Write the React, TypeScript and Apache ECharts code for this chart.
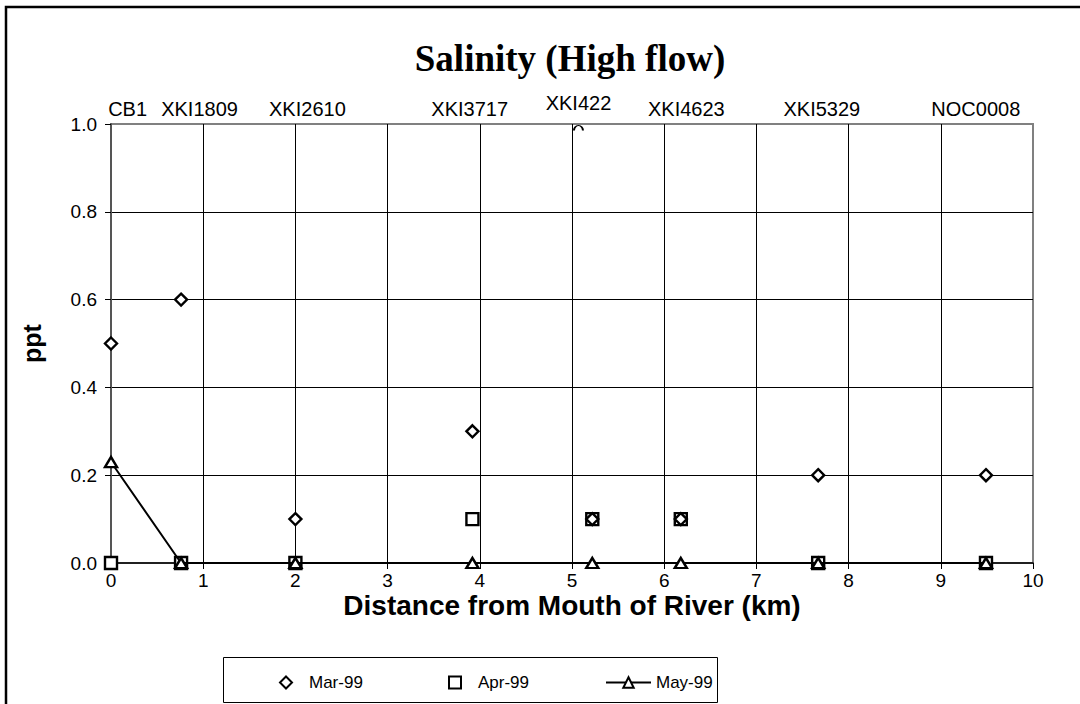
import React, { useEffect, useRef } from "react";
import * as echarts from "echarts";

// ---- data ----
const stationKm = [0, 0.76, 2.0, 3.92, 5.22, 6.18, 7.67, 9.49];
const mar99 = [0.5, 0.6, 0.1, 0.3, 0.1, 0.1, 0.2, 0.2];
const apr99 = [0, 0, 0, 0.1, 0.1, 0.1, 0, 0];
const may99 = [0.23, 0, 0, 0, 0, 0, 0, 0];

const stationNames = ["CB1", "XKI1809", "XKI2610", "XKI3717", "XKI422", "XKI4623", "XKI5329", "NOC0008"];
const stationLabelKm = [0.18, 0.96, 2.13, 3.89, 5.07, 6.24, 7.71, 9.38];
const stationLabelLevel = [1, 1, 1, 1, 1, 1, 1, 1];

const seriesNames = ["Mar-99", "Apr-99", "May-99"];

const FONT = "'Liberation Sans', Arial, sans-serif";

const pair = (xs: number[], ys: number[]) => xs.map((x, i) => [x, ys[i]]);

export default function App() {
  const ref = useRef<HTMLDivElement>(null);
  useEffect(() => {
    if (!ref.current) return;
    const chart = echarts.init(ref.current, null, { renderer: "svg" });
    const markerStyle = { color: "#ffffff", borderColor: "#000000", borderWidth: 2.4, opacity: 1 };
    const legendText = { fontFamily: FONT, fontSize: 17, color: "#000" };
    chart.setOption({
      animation: false,
      backgroundColor: "#ffffff",
      title: {
        text: "Salinity (High flow)",
        left: 565,
        top: 35,
        textAlign: "center",
        textStyle: { fontFamily: "'Liberation Serif', 'Times New Roman', serif", fontWeight: "bold", fontSize: 37, color: "#000" },
      },
      grid: { left: 111, right: 47, top: 124, bottom: 141, show: true, borderColor: "#808080", borderWidth: 2, backgroundColor: "transparent" },
      xAxis: {
        type: "value",
        min: 0,
        max: 10,
        interval: 1,
        name: "Distance from Mouth of River (km)",
        nameLocation: "middle",
        nameGap: 28,
        nameMoveOverlap: false,
        nameTextStyle: { fontFamily: FONT, fontWeight: "bold", fontSize: 28, color: "#000" },
        axisLine: { show: true, lineStyle: { color: "#000", width: 1.5 } },
        axisTick: { show: true, length: 6, lineStyle: { color: "#000", width: 1 } },
        axisLabel: { fontFamily: FONT, fontSize: 19, color: "#000", margin: 8 },
        splitLine: { show: true, showMinLine: false, showMaxLine: false, lineStyle: { color: "#000", width: 1 } },
      },
      yAxis: {
        type: "value",
        min: 0,
        max: 1,
        interval: 0.2,
        name: "ppt",
        nameLocation: "middle",
        nameGap: 67,
        nameMoveOverlap: false,
        nameTextStyle: { fontFamily: FONT, fontWeight: "bold", fontSize: 25, color: "#000" },
        axisLine: { show: true, lineStyle: { color: "#555", width: 2 } },
        axisTick: { show: true, length: 6, lineStyle: { color: "#000", width: 1 } },
        axisLabel: { fontFamily: FONT, fontSize: 19, color: "#000", margin: 14, formatter: (v: number) => v.toFixed(1) },
        splitLine: { show: true, showMinLine: false, showMaxLine: false, lineStyle: { color: "#000", width: 1 } },
      },
      legend: [
        { data: [seriesNames[0]], left: 279, top: 674, itemWidth: 12, itemHeight: 12, selectedMode: false, padding: 0, textStyle: { ...legendText, padding: [0, 0, 0, 12] } },
        { data: [seriesNames[1]], left: 448, top: 674, itemWidth: 12, itemHeight: 12, selectedMode: false, padding: 0, textStyle: { ...legendText, padding: [0, 0, 0, 12] } },
        { data: [seriesNames[2]], left: 605, top: 674, itemWidth: 45, itemHeight: 13, selectedMode: false, padding: 0, textStyle: legendText },
      ],
      graphic: [
        { type: "rect", shape: { x: 6, y: 7, width: 1200, height: 900 }, style: { fill: "none", stroke: "#000", lineWidth: 2.5 }, silent: true },
        { type: "rect", shape: { x: 223.5, y: 657.5, width: 494, height: 45 }, style: { fill: "none", stroke: "#000", lineWidth: 1 }, silent: true },
      ],
      series: [
        {
          name: "stations",
          type: "scatter",
          clip: false,
          symbol: "circle",
          symbolSize: 0.01,
          itemStyle: { color: "#000", opacity: 1 },
          z: 5,
          label: { show: true, position: "top", distance: 5, fontFamily: FONT, fontSize: 20, color: "#000", opacity: 1, formatter: (p: any) => p.data.name },
          data: stationLabelKm.map((x, i) =>
            stationNames[i] === "XKI422"
              ? {
                  name: stationNames[i],
                  value: [x, stationLabelLevel[i]],
                  symbol: "path://M0,10 A5,5 0 0 1 10,10",
                  symbolSize: [9, 5],
                  symbolOffset: [0, 4],
                  itemStyle: { color: "none", borderColor: "#000", borderWidth: 1.5, opacity: 1 },
                  label: { distance: 11 },
                }
              : { name: stationNames[i], value: [x, stationLabelLevel[i]] }
          ),
        },
        {
          name: seriesNames[1],
          type: "scatter",
          symbol: "rect",
          symbolSize: 12,
          itemStyle: markerStyle,
          z: 3,
          data: pair(stationKm, apr99),
        },
        {
          name: seriesNames[0],
          type: "scatter",
          symbol: "diamond",
          symbolSize: 12,
          itemStyle: markerStyle,
          z: 4,
          data: pair(stationKm, mar99),
        },
        {
          name: seriesNames[2],
          type: "line",
          symbol: "triangle",
          symbolSize: [12, 10],
          showSymbol: true,
          itemStyle: markerStyle,
          lineStyle: { color: "#000", width: 2 },
          z: 4,
          data: pair(stationKm, may99),
        },
      ],
    });
    return () => chart.dispose();
  }, []);
  return <div ref={ref} style={{ position: "fixed", left: 0, top: 0, width: 1080, height: 704 }} />;
}
